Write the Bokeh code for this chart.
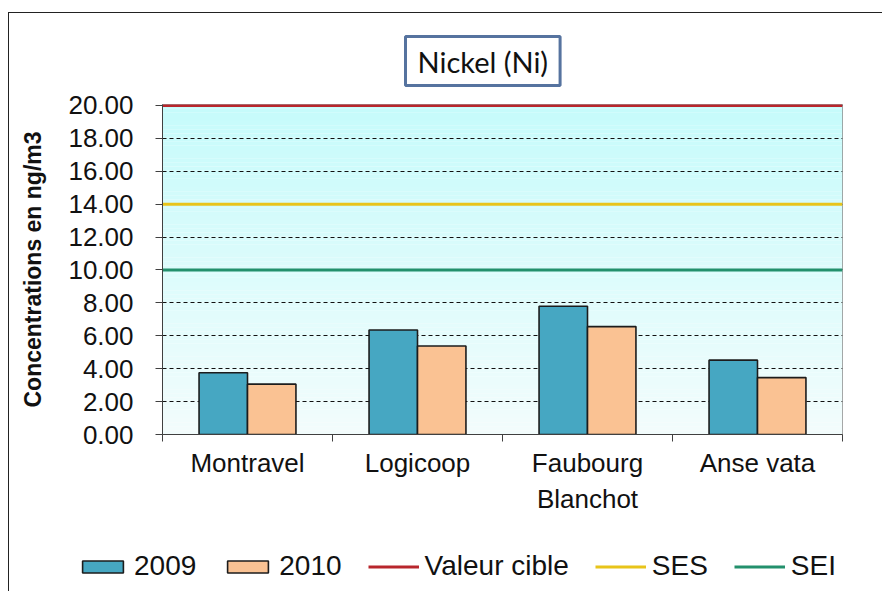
import numpy as np
from bokeh.plotting import figure
from bokeh.models import Range1d, FixedTicker, Legend, LegendItem, NumeralTickFormatter
from bokeh.embed import file_html
from bokeh.resources import INLINE

# ---- data ----
site_labels = ["Montravel", "Logicoop", "Faubourg\nBlanchot", "Anse vata"]
values_2009 = [3.75, 6.35, 7.80, 4.52]
values_2010 = [3.06, 5.38, 6.56, 3.46]
valeur_cible = 20.0
ses = 14.0
sei = 10.0
y_ticks = [0, 2, 4, 6, 8, 10, 12, 14, 16, 18, 20]
title_text = "Nickel (Ni)"
y_label = "Concentrations en ng/m3"
legend_labels = ["2009", "2010", "Valeur cible", "SES", "SEI"]

FONT = "Liberation Sans"
n = len(site_labels)
centers = np.arange(n) + 0.5
bar_w = 0.285
YMAX = 20.06

C09, C10 = "#46a7c2", "#fac293"
CRED, CYEL, CGRN = "#b8262c", "#e8c41a", "#23906c"
OUT = "#1c1c1c"
TOTAL_W = 153 + 680 + 40

p = figure(frame_width=680, frame_height=330,
           x_range=Range1d(0, n), y_range=Range1d(0, YMAX),
           output_backend="svg", toolbar_location=None,
           min_border_left=153, min_border_right=40,
           min_border_top=91, min_border_bottom=95,
           title=title_text)
p.styles = {"border-left": "1px solid #222", "border-top": "1px solid #222",
            "margin-left": "8px", "margin-top": "12px"}
p.background_fill_color = "#ffffff"
p.border_fill_color = "#ffffff"
p.outline_line_color = "#8c8c8c"

# background gradient (decoration)
edges = np.linspace(0, YMAX, 81)
top_c = np.array([198, 251, 251])
bot_c = np.array([243, 253, 253])
cols = []
for i in range(len(edges) - 1):
    tt = (edges[i] + edges[i + 1]) / 2 / YMAX
    c = bot_c + (top_c - bot_c) * tt
    cols.append("#%02x%02x%02x" % tuple(int(v) for v in c))
p.quad(left=0, right=n, bottom=edges[:-1], top=edges[1:], fill_color=cols,
       line_color=None, level="image")

# grid
p.xgrid.visible = False
p.ygrid.ticker = FixedTicker(ticks=y_ticks)
p.ygrid.grid_line_color = "#111111"
p.ygrid.grid_line_dash = "4 3"
p.ygrid.grid_line_width = 1

# bars
p.vbar(x=centers - bar_w / 2, top=values_2009, width=bar_w,
       fill_color=C09, line_color=OUT, line_width=1.6)
p.vbar(x=centers + bar_w / 2, top=values_2010, width=bar_w,
       fill_color=C10, line_color=OUT, line_width=1.6)

# reference lines
p.line(x=[0, n], y=[valeur_cible, valeur_cible], line_color=CRED, line_width=3)
p.line(x=[0, n], y=[ses, ses], line_color=CYEL, line_width=3)
p.line(x=[0, n], y=[sei, sei], line_color=CGRN, line_width=3)

# y axis
ya = p.yaxis[0]
ya.ticker = FixedTicker(ticks=y_ticks)
ya.formatter = NumeralTickFormatter(format="0.00")
ya.major_label_text_font = FONT
ya.major_label_text_font_size = "26px"
ya.major_label_text_color = "#111111"
ya.major_tick_out = 7
ya.major_tick_in = 0
ya.minor_tick_line_color = None
ya.axis_line_color = "#404040"
ya.major_tick_line_color = "#404040"
ya.major_label_standoff = 22
ya.axis_label = y_label
ya.axis_label_text_font = FONT
ya.axis_label_text_font_size = "23px"
ya.axis_label_text_font_style = "bold"
ya.axis_label_text_color = "#111111"
ya.axis_label_standoff = 19

# x axis
xa = p.xaxis[0]
xa.ticker = FixedTicker(ticks=list(centers), minor_ticks=list(range(n + 1)))
xa.major_label_overrides = {float(c): lab for c, lab in zip(centers, site_labels)}
xa.major_tick_line_color = None
xa.minor_tick_out = 7
xa.minor_tick_in = 0
xa.minor_tick_line_color = "#404040"
xa.axis_line_color = "#404040"
xa.major_label_text_font = FONT
xa.major_label_text_font_size = "26px"
xa.major_label_text_color = "#111111"
xa.major_label_standoff = 6

# title
t = p.title
t.text_font = "Lato"
t.text_font_size = "29px"
t.text_font_style = "normal"
t.text_color = "#111111"
t.align = "left"
t.offset = 243
t.standoff = 38
t.border_line_color = "#56739f"
t.border_line_width = 3
t.background_fill_color = "#ffffff"
t.padding = (12, 7)

# legend strip: a second root below the chart, so the legend can start left of the frame
pl = figure(width=TOTAL_W, height=62, x_range=Range1d(0, 1), y_range=Range1d(0, 1),
            output_backend="svg", toolbar_location=None,
            min_border=0, min_border_left=0, min_border_right=0,
            min_border_top=0, min_border_bottom=0)
pl.styles = {"border-left": "1px solid #222", "margin-left": "8px"}
pl.axis.visible = False
pl.grid.visible = False
pl.outline_line_color = None
pl.background_fill_color = "#ffffff"
pl.border_fill_color = "#ffffff"
# proxies drawn from the same series, placed outside this strip's visible ranges
off = centers + 10
l09 = pl.vbar(x=off, top=values_2009, width=bar_w, fill_color=C09, line_color=OUT, line_width=1.6)
l10 = pl.vbar(x=off, top=values_2010, width=bar_w, fill_color=C10, line_color=OUT, line_width=1.6)
lc = pl.line(x=off, y=[valeur_cible] * n, line_color=CRED, line_width=3)
ls = pl.line(x=off, y=[ses] * n, line_color=CYEL, line_width=3)
li = pl.line(x=off, y=[sei] * n, line_color=CGRN, line_width=3)
legend = Legend(items=[LegendItem(label=lab, renderers=[r]) for lab, r in
                       zip(legend_labels, [l09, l10, lc, ls, li])],
                orientation="horizontal", location=(68, 9),
                label_text_font=FONT, label_text_font_size="28px", label_text_color="#111111",
                glyph_width=51, glyph_height=15, label_standoff=6, spacing=26,
                padding=0, margin=0, border_line_color=None, background_fill_alpha=0)
pl.add_layout(legend)

open("out.html", "w").write(file_html([p, pl], INLINE))
